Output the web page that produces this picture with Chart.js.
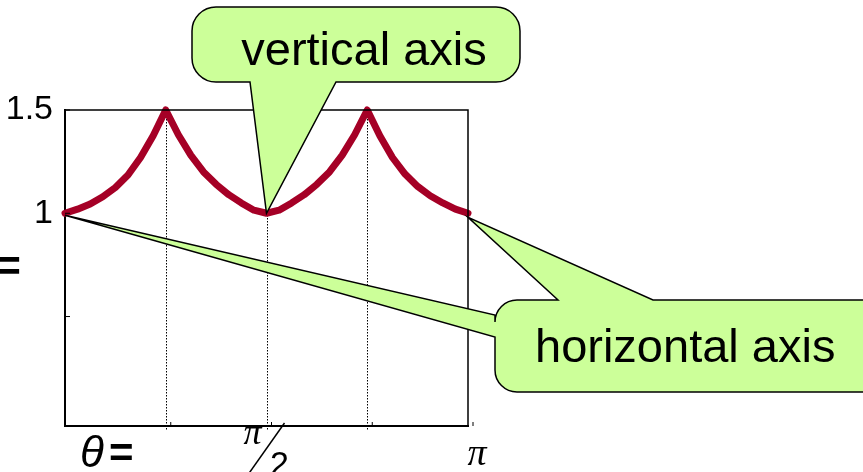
<!DOCTYPE html>
<html>
<head>
<meta charset="utf-8">
<script src="https://cdn.jsdelivr.net/npm/chart.js@4.4.1/dist/chart.umd.min.js"></script>
<style>
  html, body { margin: 0; padding: 0; background: #fff; }
  #wrap { width: 863px; height: 472px; position: relative; }
</style>
</head>
<body>
<div id="wrap"><canvas id="chart"></canvas></div>
<script>
// theta in fractions of pi, one sample every pi/32
const thetaPi = [
  0, 0.03125, 0.0625, 0.09375, 0.125, 0.15625, 0.1875, 0.21875, 0.25,
  0.28125, 0.3125, 0.34375, 0.375, 0.40625, 0.4375, 0.46875, 0.5,
  0.53125, 0.5625, 0.59375, 0.625, 0.65625, 0.6875, 0.71875, 0.75,
  0.78125, 0.8125, 0.84375, 0.875, 0.90625, 0.9375, 0.96875, 1
];
// curve values
const curveValues = [
  1.00, 1.02, 1.045, 1.08, 1.125, 1.185, 1.27, 1.375, 1.5,
  1.38, 1.28, 1.2, 1.14, 1.09, 1.05, 1.015, 1.00,
  1.015, 1.05, 1.09, 1.14, 1.2, 1.28, 1.38, 1.5,
  1.375, 1.27, 1.19, 1.13, 1.085, 1.05, 1.02, 1.00
];
const xTicks = [0, 0.25, 0.5, 0.75, 1];
const yTicks = [0.5, 1, 1.5];
const yLabels = { 1: "1", 1.5: "1.5" };

const GREEN = "#ccff99";
const CURVE = "#a50026";

// rounded box with pointers on the top or bottom edge and on the left edge
function bubble(ctx, x0, y0, x1, y1, r, edgePointer, leftPointer) {
  ctx.beginPath();
  ctx.moveTo(x0 + r, y0);
  if (edgePointer && y0 >= 200) edgePointer(ctx);
  ctx.lineTo(x1 - r, y0);
  ctx.arcTo(x1, y0, x1, y0 + r, r);
  ctx.lineTo(x1, y1 - r);
  ctx.arcTo(x1, y1, x1 - r, y1, r);
  if (edgePointer && y0 < 200) edgePointer(ctx);
  ctx.lineTo(x0 + r, y1);
  ctx.arcTo(x0, y1, x0, y1 - r, r);
  if (leftPointer) leftPointer(ctx);
  ctx.lineTo(x0, y0 + r);
  ctx.arcTo(x0, y0, x0 + r, y0, r);
  ctx.closePath();
  ctx.fillStyle = GREEN;
  ctx.fill();
  ctx.strokeStyle = "#000";
  ctx.lineWidth = 1.5;
  ctx.stroke();
}

// dotted guide lines under the curve
const guides = {
  id: "guides",
  beforeDatasetsDraw(chart) {
    const { ctx, chartArea: a, scales } = chart;
    ctx.save();
    ctx.strokeStyle = "#000";
    ctx.lineWidth = 1;
    ctx.setLineDash([1.5, 1.5]);
    xTicks.slice(1, -1).forEach(v => {
      const x = Math.round(scales.x.getPixelForValue(v)) + 0.5;
      ctx.beginPath();
      ctx.moveTo(x, a.top);
      ctx.lineTo(x, a.bottom + 5);
      ctx.stroke();
    });
    ctx.restore();
  }
};

// callouts, text and frame drawn on top of the plot
const overlay = {
  id: "overlay",
  afterDraw(chart) {
    const { ctx, chartArea: a, scales } = chart;
    const xs = scales.x, ys = scales.y;
    ctx.save();

    // top / right frame
    ctx.strokeStyle = "#000";
    ctx.lineWidth = 1.5;
    ctx.beginPath();
    ctx.moveTo(a.left, a.top);
    ctx.lineTo(a.right, a.top);
    ctx.lineTo(a.right, a.bottom);
    ctx.stroke();

    // small inward ticks
    ctx.lineWidth = 1;
    yTicks.forEach(v => {
      const y = ys.getPixelForValue(v);
      ctx.beginPath();
      ctx.moveTo(a.left, y);
      ctx.lineTo(a.left + 5, y);
      ctx.stroke();
    });
    xTicks.slice(1).forEach(v => {
      const x = xs.getPixelForValue(v) + 5;
      ctx.beginPath();
      ctx.moveTo(x, a.bottom);
      ctx.lineTo(x, a.bottom - 4);
      ctx.stroke();
    });

    // x labels
    ctx.fillStyle = "#000";
    ctx.textBaseline = "alphabetic";
    ctx.textAlign = "left";
    ctx.font = "italic 44px 'Liberation Sans', Arial, sans-serif";
    ctx.fillText("θ", 80, 467);
    ctx.font = "bold 42px 'Liberation Sans', Arial, sans-serif";
    ctx.fillText("=", 109, 467);

    const xHalf = xs.getPixelForValue(0.5);
    ctx.font = "italic 36px 'Liberation Serif', serif";
    ctx.textAlign = "center";
    ctx.fillText("π", xHalf - 14, 444);
    ctx.beginPath();
    ctx.lineWidth = 1.5;
    ctx.moveTo(xHalf + 18, 423);
    ctx.lineTo(xHalf - 18, 474);
    ctx.stroke();
    ctx.font = "34px 'Liberation Sans', Arial, sans-serif";
    ctx.fillText("2", xHalf + 13, 475);
    ctx.font = "italic 38px 'Liberation Serif', serif";
    ctx.fillText("π", xs.getPixelForValue(1) + 9, 465);

    // cut-off "=" at the left edge
    ctx.font = "bold 44px 'Liberation Sans', Arial, sans-serif";
    ctx.textAlign = "right";
    ctx.fillText("=", 21, 281);

    // callout: vertical axis
    const tipV = { x: xs.getPixelForValue(0.5), y: ys.getPixelForValue(1) };
    bubble(ctx, 192, 7, 520, 82, 24, p => {
      p.lineTo(336, 82);
      p.lineTo(tipV.x, tipV.y);
      p.lineTo(250, 82);
    }, null);
    ctx.fillStyle = "#000";
    ctx.font = "47px 'Liberation Sans', Arial, sans-serif";
    ctx.textAlign = "center";
    ctx.fillText("vertical axis", 364, 65);

    // callout: horizontal axis
    const tipR = { x: xs.getPixelForValue(1), y: ys.getPixelForValue(1) + 4 };
    const tipL = { x: xs.getPixelForValue(0), y: ys.getPixelForValue(1) + 2 };
    bubble(ctx, 495, 300, 900, 392, 22, p => {
      p.lineTo(558, 300);
      p.lineTo(tipR.x, tipR.y);
      p.lineTo(653, 300);
    }, p => {
      p.lineTo(495, 337);
      p.lineTo(tipL.x, tipL.y);
      p.lineTo(495, 315);
    });
    ctx.fillStyle = "#000";
    ctx.font = "47px 'Liberation Sans', Arial, sans-serif";
    ctx.textAlign = "left";
    ctx.fillText("horizontal axis", 535, 362);

    ctx.restore();
  }
};

new Chart(document.getElementById("chart"), {
  type: "line",
  data: {
    datasets: [{
      data: thetaPi.map((t, i) => ({ x: t, y: curveValues[i] })),
      borderColor: CURVE,
      borderWidth: 7,
      borderCapStyle: "round",
      borderJoinStyle: "round",
      pointRadius: 0,
      tension: 0,
      clip: false
    }]
  },
  options: {
    responsive: true,
    maintainAspectRatio: false,
    animation: false,
    events: [],
    layout: { padding: { left: 0, right: 395, top: 110, bottom: 46 } },
    plugins: { legend: { display: false }, tooltip: { enabled: false } },
    scales: {
      x: {
        type: "linear",
        min: 0,
        max: 1,
        afterBuildTicks: s => { s.ticks = xTicks.map(v => ({ value: v })); },
        afterFit: s => { s.height = 0; },
        ticks: { display: false },
        border: { display: true, color: "#000", width: 2 },
        grid: { display: false }
      },
      y: {
        min: -0.03,
        max: 1.5,
        afterBuildTicks: s => { s.ticks = yTicks.map(v => ({ value: v })); },
        afterFit: s => { s.width = 65; },
        ticks: {
          color: "#000",
          padding: 4,
          font: { family: "'Liberation Sans', Arial, sans-serif", size: 34 },
          callback: v => yLabels[v] || ""
        },
        border: { display: true, color: "#000", width: 2 },
        grid: { display: false }
      }
    }
  },
  plugins: [guides, overlay]
});
</script>
</body>
</html>
